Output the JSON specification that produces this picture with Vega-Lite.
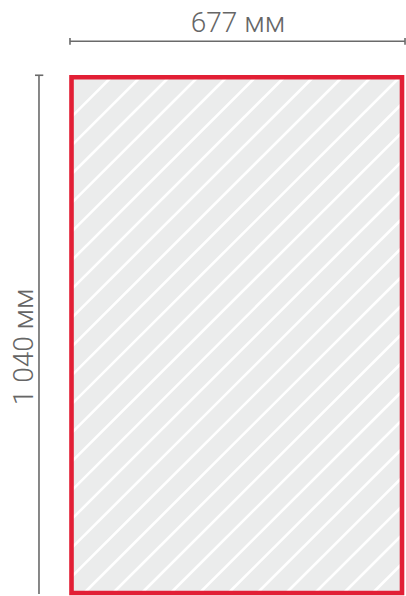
{
  "$schema": "https://vega.github.io/schema/vega-lite/v6.json",
  "width": 406,
  "height": 596,
  "autosize": {"type": "fit", "contains": "padding"},
  "padding": 0,
  "background": "#ffffff",
  "config": {"view": {"stroke": null}},
  "datasets": {
    "sheet": [{"x": 0, "y": 0, "x2": 677, "y2": 1040}],
    "stripes": [
      {"x": 81.3, "y": 0, "x2": 0, "y2": 79.8},
      {"x": 140.4, "y": 0, "x2": 0, "y2": 137.8},
      {"x": 199.5, "y": 0, "x2": 0, "y2": 195.7},
      {"x": 258.6, "y": 0, "x2": 0, "y2": 253.7},
      {"x": 317.7, "y": 0, "x2": 0, "y2": 311.7},
      {"x": 376.8, "y": 0, "x2": 0, "y2": 369.7},
      {"x": 435.9, "y": 0, "x2": 0, "y2": 427.7},
      {"x": 495.0, "y": 0, "x2": 0, "y2": 485.6},
      {"x": 554.1, "y": 0, "x2": 0, "y2": 543.6},
      {"x": 613.2, "y": 0, "x2": 0, "y2": 601.6},
      {"x": 672.3, "y": 0, "x2": 0, "y2": 659.6},
      {"x": 677, "y": 53.4, "x2": 0, "y2": 717.5},
      {"x": 677, "y": 111.3, "x2": 0, "y2": 775.5},
      {"x": 677, "y": 169.3, "x2": 0, "y2": 833.5},
      {"x": 677, "y": 227.3, "x2": 0, "y2": 891.5},
      {"x": 677, "y": 285.3, "x2": 0, "y2": 949.5},
      {"x": 677, "y": 343.3, "x2": 0, "y2": 1007.4},
      {"x": 677, "y": 401.2, "x2": 25.9, "y2": 1040},
      {"x": 677, "y": 459.2, "x2": 85.0, "y2": 1040},
      {"x": 677, "y": 517.2, "x2": 144.1, "y2": 1040},
      {"x": 677, "y": 575.2, "x2": 203.2, "y2": 1040},
      {"x": 677, "y": 633.1, "x2": 262.3, "y2": 1040},
      {"x": 677, "y": 691.1, "x2": 321.4, "y2": 1040},
      {"x": 677, "y": 749.1, "x2": 380.5, "y2": 1040},
      {"x": 677, "y": 807.1, "x2": 439.6, "y2": 1040},
      {"x": 677, "y": 865.1, "x2": 498.7, "y2": 1040},
      {"x": 677, "y": 923.0, "x2": 557.8, "y2": 1040},
      {"x": 677, "y": 981.0, "x2": 616.9, "y2": 1040}
    ],
    "dims": [
      {"x": -3.1, "y": -72.7, "x2": 683.2, "y2": -72.7},
      {"x": -3.1, "y": -79.2, "x2": -3.1, "y2": -65.7},
      {"x": 683.2, "y": -79.2, "x2": 683.2, "y2": -65.7},
      {"x": -66.6, "y": -4, "x2": -66.6, "y2": 1042},
      {"x": -74.8, "y": -4, "x2": -57.8, "y2": -4}
    ],
    "widthLabel": [{"x": 341, "y": -90.8, "label": "677 мм"}],
    "heightLabel": [{"x": -78.2, "y": 543.6, "label": "1 040 мм"}]
  },
  "encoding": {
    "x": {"field": "x", "type": "quantitative", "scale": {"domain": [-146.46, 685.2], "zero": false, "nice": false}, "axis": null},
    "y": {"field": "y", "type": "quantitative", "scale": {"domain": [-155.75, 1042], "zero": false, "nice": false, "reverse": true}, "axis": null}
  },
  "layer": [
    {
      "data": {"name": "sheet"},
      "mark": {"type": "rect", "fill": "#ebecec", "strokeWidth": 0},
      "encoding": {"x2": {"field": "x2"}, "y2": {"field": "y2"}}
    },
    {
      "data": {"name": "stripes"},
      "mark": {"type": "rule", "color": "#ffffff", "strokeWidth": 2.6},
      "encoding": {"x2": {"field": "x2"}, "y2": {"field": "y2"}}
    },
    {
      "data": {"name": "sheet"},
      "mark": {"type": "rect", "fill": null, "fillOpacity": 0, "stroke": "#e21f35", "strokeWidth": 4.6},
      "encoding": {"x2": {"field": "x2"}, "y2": {"field": "y2"}}
    },
    {
      "data": {"name": "dims"},
      "mark": {"type": "rule", "color": "#6a6a6a", "strokeWidth": 1.6},
      "encoding": {"x2": {"field": "x2"}, "y2": {"field": "y2"}}
    },
    {
      "data": {"name": "widthLabel"},
      "mark": {"type": "text", "font": "Roboto", "fontWeight": 300, "fontSize": 28, "color": "#666666", "align": "center", "baseline": "alphabetic"},
      "encoding": {"text": {"field": "label"}}
    },
    {
      "data": {"name": "heightLabel"},
      "mark": {"type": "text", "font": "Roboto", "fontWeight": 300, "fontSize": 28, "color": "#666666", "align": "center", "baseline": "alphabetic", "angle": 270},
      "encoding": {"text": {"field": "label"}}
    }
  ]
}
